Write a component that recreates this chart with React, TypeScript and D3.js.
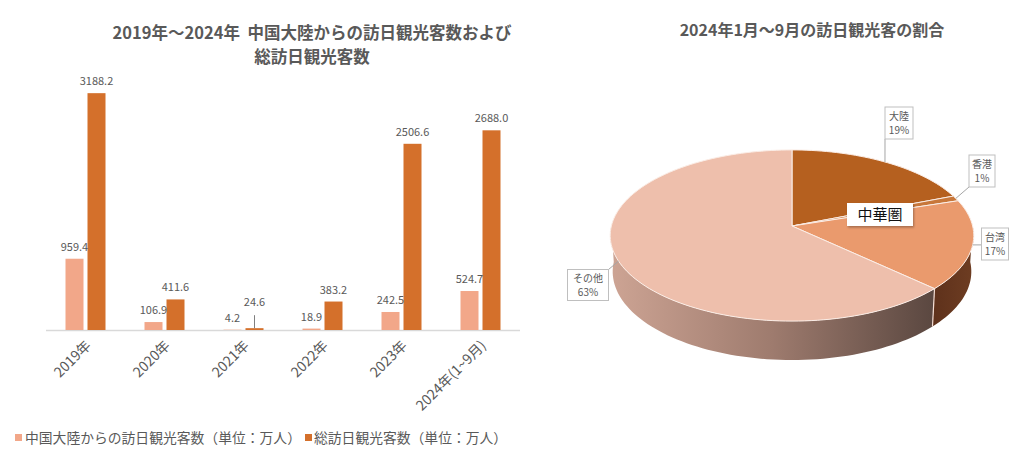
import React from "react";
import * as d3 from "d3";

const years = ["2019年", "2020年", "2021年", "2022年", "2023年", "2024年(1~9月)"];
const mainland = [959.4, 106.9, 4.2, 18.9, 242.5, 524.7];
const total = [3188.2, 411.6, 24.6, 383.2, 2506.6, 2688.0];
const seriesNames = ["中国大陸からの訪日観光客数（単位：万人）", "総訪日観光客数（単位：万人）"];

const pieLabels = ["大陸", "香港", "台湾", "その他"];
const pieValues = [19, 1, 17, 63];

const FONT = "'Noto Sans CJK JP', 'Noto Sans', sans-serif";
const TXT = "#595959";
const C_LIGHT = "#F2A789";
const C_DARK = "#D4702B";

const pieTop = ["#B5601F", "#C8773A", "#EA9A6D", "#EEBFAC"];

// callout layout (box centre) per slice
const calloutBox = [
  { x: 899, y: 123, w: 28, h: 32 },
  { x: 982, y: 171, w: 26, h: 32 },
  { x: 995, y: 244, w: 27, h: 32 },
  { x: 588, y: 285, w: 41, h: 31 },
];

export default function App() {
  const W = 1024, H = 456;
  // ---------- bar chart ----------
  const x = d3.scaleBand<string>().domain(years).range([46, 520]).paddingInner(0).paddingOuter(0);
  const y = d3.scaleLinear().domain([0, 3500]).range([330, 70]);
  const barW = 18;
  const off = 11;

  // ---------- pie ----------
  const cx = 792, cy = 226;
  const K = 1436, d = 7.95, phi = (27.9 * Math.PI) / 180;
  const s = Math.sin(phi), c = Math.cos(phi);
  const h = 0.228;
  const proj = (theta: number, yy: number, r = 1) => {
    const px = r * Math.sin(theta);
    const pz = r * Math.cos(theta);
    const depth = d + pz * c - yy * s;
    return [cx + (K * px) / depth, cy - (K * (yy * c + pz * s)) / depth];
  };
  const arcs = d3.pie<number>().sort(null).startAngle(0).endAngle(2 * Math.PI)(pieValues);
  const arcPts = (a0: number, a1: number, yy: number) => {
    const n = Math.max(2, Math.ceil(((a1 - a0) / (2 * Math.PI)) * 200));
    const pts: number[][] = [];
    for (let i = 0; i <= n; i++) pts.push(proj(a0 + ((a1 - a0) * i) / n, yy));
    return pts;
  };
  const line = d3.line();
  const topPaths = arcs.map((a) => {
    const pts = [proj(0, 0, 0), ...arcPts(a.startAngle, a.endAngle, 0)];
    return line(pts as [number, number][]) + "Z";
  });
  const sideFront0 = Math.PI / 2, sideFront1 = (3 * Math.PI) / 2;
  const sidePaths = arcs.map((a) => {
    const a0 = Math.max(a.startAngle, sideFront0);
    const a1 = Math.min(a.endAngle, sideFront1);
    if (a1 <= a0) return null;
    const topA = arcPts(a0, a1, 0);
    const botA = arcPts(a0, a1, -h).reverse();
    return line([...topA, ...botA] as [number, number][]) + "Z";
  });
  const sideFill = ["#6A3A1E", "#6A3A1E", "url(#gTw)", "url(#gOther)"];
  const boundaryAngles = arcs.map((a) => a.endAngle).filter((a) => a > sideFront0 && a < sideFront1);

  return (
    <svg width={W} height={H} style={{ display: "block", position: "absolute", left: 0, top: 0 }} fontFamily={FONT}>
      <defs>
        <linearGradient id="gOther" x1="0" x2="1" y1="0" y2="0">
          <stop offset="0" stopColor="#CDA494" />
          <stop offset="0.5" stopColor="#9E7B6E" />
          <stop offset="1" stopColor="#5A4740" />
        </linearGradient>
        <linearGradient id="gTw" x1="0" x2="1" y1="0" y2="0">
          <stop offset="0" stopColor="#5E311B" />
          <stop offset="1" stopColor="#6E3D22" />
        </linearGradient>
        <filter id="sh" x="-20%" y="-20%" width="140%" height="150%">
          <feDropShadow dx="1" dy="1.5" stdDeviation="1.2" floodColor="#000" floodOpacity="0.3" />
        </filter>
      </defs>
      <rect width={W} height={H} fill="#fff" />

      {/* bar chart title */}
      <text x={312} y={39} textAnchor="middle" fontSize={16.5} fontWeight="bold" fill={TXT} xmlSpace="preserve" style={{ whiteSpace: "pre" }}>
        {"2019年～2024年  中国大陸からの訪日観光客数および"}
      </text>
      <text x={312} y={63} textAnchor="middle" fontSize={16.5} fontWeight="bold" fill={TXT}>
        総訪日観光客数
      </text>

      {/* axis */}
      <line x1={46} x2={520} y1={330.5} y2={330.5} stroke="#D9D9D9" strokeWidth={1.5} />

      {years.map((yr, i) => {
        const gc = (x(yr) as number) + x.bandwidth() / 2;
        const v1 = mainland[i], v2 = total[i];
        const lift2 = i === 2 ? 14 : 0;
        return (
          <g key={yr}>
            <rect x={gc - off - barW / 2} y={y(v1)} width={barW} height={y(0) - y(v1)} fill={C_LIGHT} />
            <rect x={gc + off - barW / 2} y={y(v2)} width={barW} height={y(0) - y(v2)} fill={C_DARK} />
            <text x={gc - off} y={y(v1) - 8} textAnchor="middle" fontSize={11} fill={TXT}>
              {v1.toFixed(1)}
            </text>
            {i === 2 && (
              <line x1={gc + off} x2={gc + off} y1={y(v2) - 13} y2={y(v2)} stroke="#7F7F7F" strokeWidth={1} />
            )}
            <text x={gc + off} y={y(v2) - 8 - lift2} textAnchor="middle" fontSize={11} fill={TXT}>
              {v2.toFixed(1)}
            </text>
            <text
              transform={`translate(${gc + 3},${343}) rotate(-45)`}
              textAnchor="end"
              dy="0.35em"
              fontSize={14}
              fill={TXT}
            >
              {yr}
            </text>
          </g>
        );
      })}

      {/* legend */}
      <rect x={15} y={434} width={7} height={7} fill={C_LIGHT} />
      <text x={25} y={443} fontSize={13.8} fill={TXT}>{seriesNames[0]}</text>
      <rect x={305} y={434} width={7} height={7} fill={C_DARK} />
      <text x={314} y={443} fontSize={13.8} fill={TXT}>{seriesNames[1]}</text>

      {/* pie title */}
      <text x={812} y={36} textAnchor="middle" fontSize={16} fontWeight="bold" fill={TXT}>
        2024年1月～9月の訪日観光客の割合
      </text>

      {/* pie side */}
      {sidePaths.map((p, i) => (p ? <path key={"s" + i} d={p} fill={sideFill[i]} /> : null))}
      {boundaryAngles.map((a, i) => {
        const p0 = proj(a, 0), p1 = proj(a, -h);
        return <line key={"b" + i} x1={p0[0]} y1={p0[1]} x2={p1[0]} y2={p1[1]} stroke="#F3DCD2" strokeWidth={1.2} />;
      })}
      {/* pie top */}
      {topPaths.map((p, i) => (
        <path key={"t" + i} d={p} fill={pieTop[i]} stroke="#FBEDE6" strokeWidth={1} strokeLinejoin="round" />
      ))}

      {/* callouts */}
      {arcs.map((a, i) => {
        const mid = (a.startAngle + a.endAngle) / 2;
        const rim = proj(mid, 0);
        const b = calloutBox[i];
        const bx0 = b.x - b.w / 2, by0 = b.y - b.h / 2;
        const ex = Math.max(bx0, Math.min(bx0 + b.w, rim[0]));
        const ey = Math.max(by0, Math.min(by0 + b.h, rim[1]));
        return (
          <g key={"c" + i}>
            <line x1={rim[0]} y1={rim[1]} x2={ex} y2={ey} stroke="#A6A6A6" strokeWidth={1} />
            <rect x={bx0} y={by0} width={b.w} height={b.h} fill="#fff" stroke="#BFBFBF" strokeWidth={1} />
            <text x={b.x} y={b.y - 3} textAnchor="middle" fontSize={10} fill={TXT}>{pieLabels[i]}</text>
            <text x={b.x} y={b.y + 11} textAnchor="middle" fontSize={10} fill={TXT}>{pieValues[i]}%</text>
          </g>
        );
      })}

      {/* 中華圏 label */}
      <rect x={847} y={203} width={66} height={23} fill="#fff" filter="url(#sh)" />
      <text x={880} y={220} textAnchor="middle" fontSize={15} fill="#111">中華圏</text>
    </svg>
  );
}
